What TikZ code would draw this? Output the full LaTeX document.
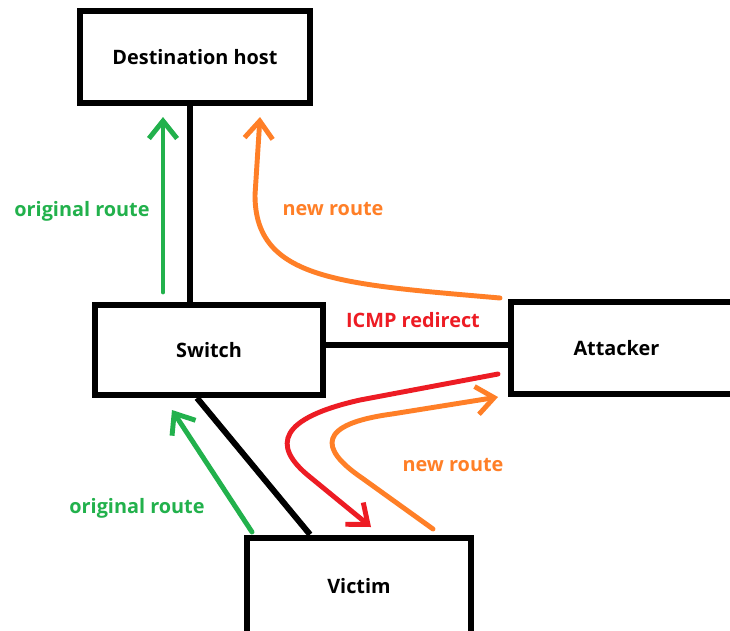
\documentclass[tikz,border=0pt]{standalone}
\usepackage{fontspec}
\setmainfont{Open Sans}
\usetikzlibrary{arrows.meta}
\definecolor{xgreen}{RGB}{34,177,76}
\definecolor{xorange}{RGB}{255,127,39}
\definecolor{xred}{RGB}{237,28,36}
\begin{document}
\begin{tikzpicture}[x=0.02cm,y=-0.02cm,>={Straight Barb[length=10pt,width=16pt]}]
\tikzset{box/.style={draw,line width=3.4pt,font=\bfseries\fontsize{11.3}{13}\selectfont}}
\tikzset{wire/.style={line width=3.4pt,-}}
\tikzset{route/.style={line width=2.8pt,draw=#1,->,line cap=round,line join=round}}
\tikzset{tag/.style={text=#1,font=\bfseries\fontsize{11.3}{13}\selectfont}}
\useasboundingbox[fill=white] (0,0) rectangle (730,630);
\node[box,minimum width=4.6cm,minimum height=1.84cm] at (195,57) (dest) {Destination host};
\node[box,minimum width=4.56cm,minimum height=1.8cm] at (209,350) (switch) {Switch};
\node[box,minimum width=4.8cm,minimum height=1.84cm,text width=2.3cm,align=left] at (631,348) (attacker) {Attacker};
\node[box,minimum width=4.5cm,minimum height=1.94cm] at (359,586) (victim) {Victim};
\draw[wire] ([xshift=-0.1cm]dest.south) -- ([xshift=-0.1cm]dest.south |- switch.north);
\draw[wire] ([yshift=0.1cm]switch.east) -- ([yshift=0.1cm]switch.east -| attacker.west);
\draw[wire] ([xshift=-0.24cm]switch.south) -- ([xshift=-0.98cm]victim.north);
% routes
\coordinate (g1) at (163,292);
\coordinate (g2) at (163,117);
\draw[route=xgreen] (g1) -- (g2);
\coordinate (o1) at (500,298);
\coordinate (o2) at (260,117);
\draw[route=xorange] (o1) .. controls (340,284) and (255,280) .. (255,195) -- (o2);
\coordinate (r1) at (498,374);
\coordinate (r2) at (371,527);
\draw[route=xred] (r1) -- (360,400) .. controls (280,418) and (270,445) .. (310,477) -- (r2);
\coordinate (n1) at (433,529);
\coordinate (n2) at (498,397);
\draw[route=xorange] (n1) -- (362,478) .. controls (318,448) and (318,424) .. (392,414) -- (n2);
\coordinate (v1) at (252,532);
\coordinate (v2) at (172,410);
\draw[route=xgreen] (v1) -- (v2);
% labels
\node[tag=xgreen] at (82,211) (orig1) {original route};
\node[tag=xorange] at (333,209) (new1) {new route};
\node[tag=xred] at (413,320) (icmp) {ICMP redirect};
\node[tag=xorange] at (453,465) (new2) {new route};
\node[tag=xgreen] at (137,508) (orig2) {original route};
\end{tikzpicture}
\end{document}
